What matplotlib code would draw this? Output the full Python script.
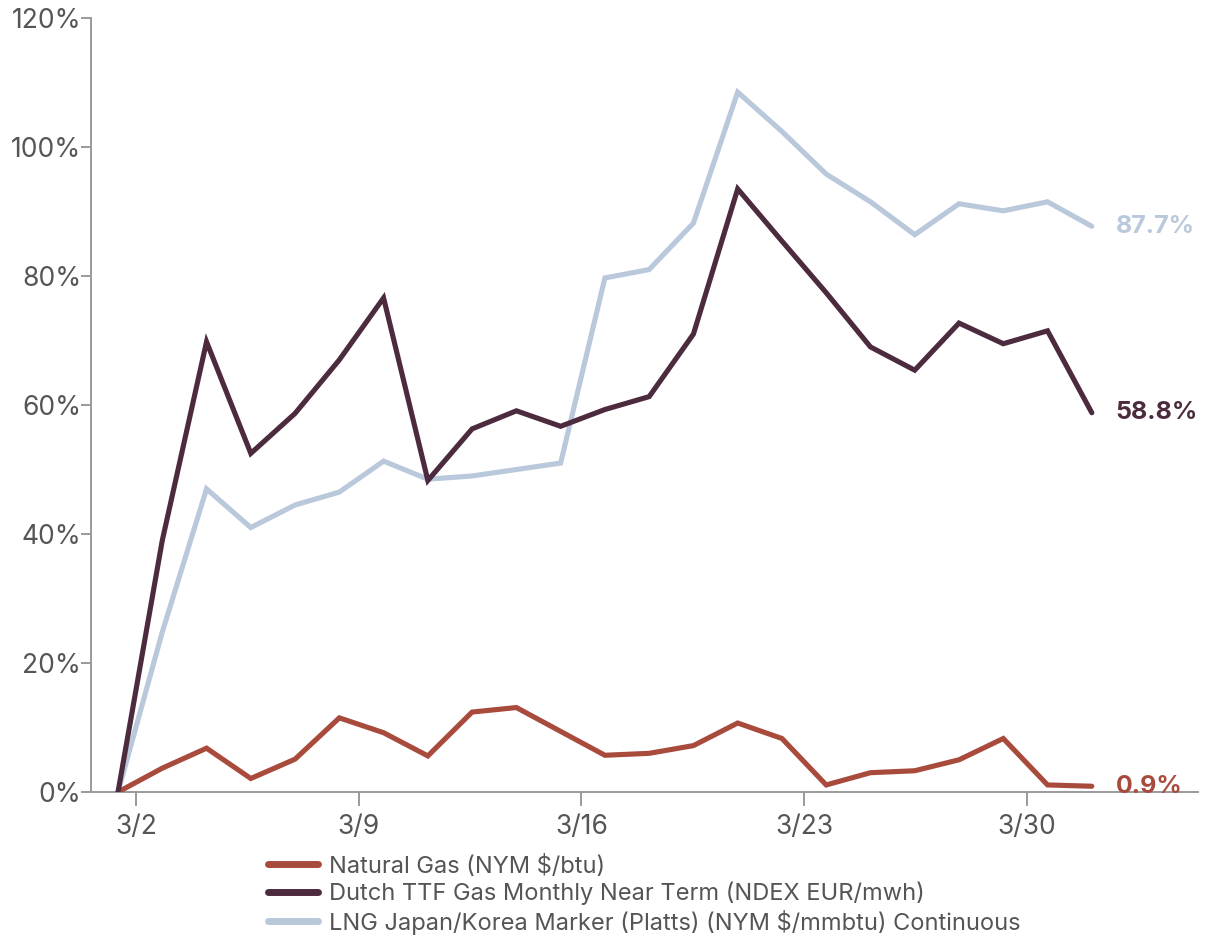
import numpy as np
import matplotlib.pyplot as plt

plt.rcParams['font.family'] = ['Inter', 'DejaVu Sans']

# daily % change since start of month, one value per trading day
nat_gas = [0, 3.7, 6.8, 2.1, 5.1, 11.5, 9.2, 5.6, 12.4, 13.1, 9.4, 5.7,
           6.0, 7.2, 10.7, 8.3, 1.1, 3.0, 3.3, 5.0, 8.3, 1.1, 0.9]
dutch_ttf = [0, 39.0, 69.8, 52.5, 58.7, 67.0, 76.6, 48.3, 56.3, 59.1, 56.7, 59.3,
             61.3, 71.0, 93.5, 85.4, 77.4, 69.0, 65.4, 72.7, 69.5, 71.5, 58.8]
lng_jkm = [0, 24.8, 47.0, 41.0, 44.5, 46.5, 51.3, 48.5, 49.0, 50.0, 51.0, 79.7,
           81.0, 88.2, 108.5, 102.4, 95.8, 91.5, 86.4, 91.2, 90.1, 91.5, 87.7]

labels = ['Natural Gas (NYM $/btu)',
          'Dutch TTF Gas Monthly Near Term (NDEX EUR/mwh)',
          'LNG Japan/Korea Marker (Platts) (NYM $/mmbtu) Continuous']
colors = ['#A84B3D', '#4D2B3F', '#B9C8DB']

# weekly date ticks, positioned on the trading-day index
tick_pos = [0.41, 5.44, 10.47, 15.5, 20.53]
tick_labels = ['3/2', '3/9', '3/16', '3/23', '3/30']

fig = plt.figure(figsize=(12.2, 9.36), dpi=100)
ax = fig.add_axes([0.0746, 0.1538, 0.9074, 0.827])

x = np.arange(len(nat_gas))
series = [nat_gas, dutch_ttf, lng_jkm]
zorders = [3, 3, 2]
for ys, lab, c, z in zip(series, labels, colors, zorders):
    ax.plot(x, ys, color=c, lw=3.7, label=lab, zorder=z,
            solid_joinstyle='miter', solid_capstyle='round')
    ax.annotate(f'{ys[-1]:.1f}%', (x[-1], ys[-1]), xytext=(17, 0),
                textcoords='offset points', va='center', ha='left',
                color=c, fontsize=18, fontweight='bold', annotation_clip=False)

ax.set_xlim(-0.61, 24.4)
ax.set_ylim(0, 120)
ax.set_yticks(np.arange(0, 121, 20))
ax.set_yticklabels([f'{v}%' for v in range(0, 121, 20)])
ax.set_xticks(tick_pos)
ax.set_xticklabels(tick_labels)

for s in ['top', 'right']:
    ax.spines[s].set_visible(False)
for s in ['left', 'bottom']:
    ax.spines[s].set_color('#9a9a9a')
    ax.spines[s].set_linewidth(1.4)
ax.tick_params(axis='both', colors='#9a9a9a', labelcolor='#555555',
               labelsize=19, width=1.4)
ax.tick_params(axis='y', length=7, pad=0)
ax.tick_params(axis='x', length=10, pad=6)

leg = fig.legend(loc='upper left', bbox_to_anchor=(0.212, 0.097),
                 frameon=False, fontsize=17, handlelength=2.1,
                 handletextpad=0.5, labelspacing=0.18, borderaxespad=0)
for t in leg.get_texts():
    t.set_color('#555555')
for h in leg.get_lines():
    h.set_linewidth(5)

plt.savefig('out.png', dpi=100)
